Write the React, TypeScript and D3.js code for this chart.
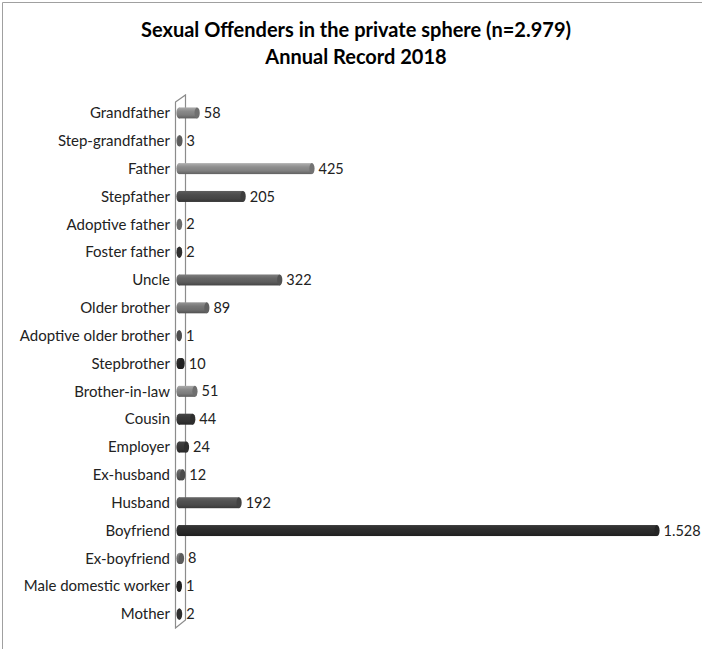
import React from "react";
import * as d3 from "d3";

const categories = [
  "Grandfather", "Step-grandfather", "Father", "Stepfather", "Adoptive father",
  "Foster father", "Uncle", "Older brother", "Adoptive older brother", "Stepbrother",
  "Brother-in-law", "Cousin", "Employer", "Ex-husband", "Husband", "Boyfriend",
  "Ex-boyfriend", "Male domestic worker", "Mother",
];
const values = [58, 3, 425, 205, 2, 2, 322, 89, 1, 10, 51, 44, 24, 12, 192, 1528, 8, 1, 2];
const barColors = [
  "#7c7c7c", "#666666", "#808080", "#444444", "#777777",
  "#333333", "#5c5c5c", "#6c6c6c", "#555555", "#252525",
  "#7c7c7c", "#333333", "#333333", "#555555", "#4a4a4a",
  "#282828", "#666666", "#222222", "#333333",
];
const titleLines = ["Sexual Offenders in the private sphere (n=2.979)", "Annual Record 2018"];

const W = 702, H = 649;
const FONT = "Lato, 'Open Sans', sans-serif";

const locale = d3.formatLocale({ decimal: ",", thousands: ".", grouping: [3], currency: ["", ""] });
const fmt = locale.format(",d");

export default function App() {
  const x = d3.scaleLinear().domain([0, 1528]).range([179, 657]);
  const y = d3.scaleBand<string>().domain(categories).range([99, 628]);
  const bh = 11;
  return (
    <svg width={W} height={H} style={{ position: "absolute", left: 0, top: 0, background: "#fff" }}>
      <defs>
        {barColors.map((c, i) => {
          const base = d3.color(c)!;
          return (
            <linearGradient key={i} id={`g${i}`} x1="0" y1="0" x2="0" y2="1">
              <stop offset="0%" stopColor={base.brighter(0.9).formatHex()} />
              <stop offset="35%" stopColor={base.brighter(0.3).formatHex()} />
              <stop offset="70%" stopColor={base.formatHex()} />
              <stop offset="100%" stopColor={base.darker(0.8).formatHex()} />
            </linearGradient>
          );
        })}
      </defs>
      <line x1={2.5} y1={2.5} x2={W} y2={2.5} stroke="#a0a0a0" strokeWidth={1} />
      <line x1={2.5} y1={2.5} x2={2.5} y2={H} stroke="#a0a0a0" strokeWidth={1} />
      {titleLines.map((t, i) => (
        <text key={i} x={356} y={37 + i * 27} textAnchor="middle" fontFamily={FONT}
          fontWeight="bold" fontSize={20} fill="#000">{t}</text>
      ))}
      <polygon points="175.5,102 185.5,95 185.5,620 175.5,628" fill="#fff" stroke="#8c8c8c" strokeWidth={1.2} />
      {categories.map((c, i) => {
        const cy = y(c)! + y.bandwidth() / 2;
        const x0 = x(0), x1 = x(values[i]);
        const rx = 2.6;
        return (
          <g key={c}>
            <text x={170} y={cy} dy="0.35em" textAnchor="end" fontFamily={FONT} fontSize={15} fill="#222">{c}</text>
            <rect x={x0} y={cy - bh / 2} width={Math.max(0, x1 - x0)} height={bh} fill={`url(#g${i})`} />
            <ellipse cx={x0} cy={cy} rx={rx} ry={bh / 2} fill={`url(#g${i})`} />
            <ellipse cx={x1} cy={cy} rx={rx} ry={bh / 2} fill={d3.color(barColors[i])!.darker(0.3).formatHex()} />
            <text x={x1 + rx + 4} y={cy} dy="0.35em" fontFamily={FONT} fontSize={14.5} fill="#222">{fmt(values[i])}</text>
          </g>
        );
      })}
    </svg>
  );
}
